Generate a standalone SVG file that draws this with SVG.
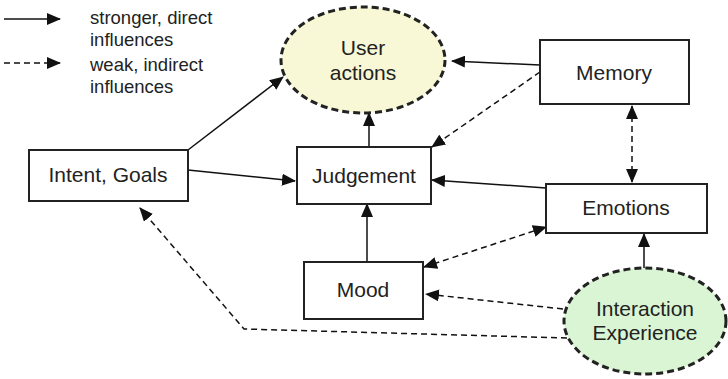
<svg xmlns="http://www.w3.org/2000/svg" width="728" height="379" viewBox="0 0 728 379">
<defs>
<marker id="ah" markerUnits="userSpaceOnUse" markerWidth="14" markerHeight="12" refX="13" refY="6" orient="auto-start-reverse" viewBox="0 0 14 12">
<path d="M0,0 L14,6 L0,12 z" fill="#111"/>
</marker>
<style>
.box{fill:#fff;stroke:#222;stroke-width:2}
.ell{stroke:#222;stroke-width:3;stroke-dasharray:7 4}
.t{font-family:"Liberation Sans",Arial,sans-serif;font-size:21px;fill:#222;text-anchor:middle}
.lg{font-family:"Liberation Sans",Arial,sans-serif;font-size:18.5px;fill:#222}
.s{fill:none;stroke:#111;stroke-width:1.5;marker-end:url(#ah)}
.d{fill:none;stroke:#111;stroke-width:1.5;stroke-dasharray:6 4;marker-end:url(#ah)}
.dd{fill:none;stroke:#111;stroke-width:1.5;stroke-dasharray:6 4;marker-end:url(#ah);marker-start:url(#ah)}
</style>
</defs>
<g id="legend">
<line class="s" x1="4" y1="19" x2="60" y2="19"/>
<line class="d" x1="4" y1="63" x2="60" y2="63"/>
<text class="lg" x="90" y="24">stronger, direct</text>
<text class="lg" x="90" y="46">influences</text>
<text class="lg" x="90" y="71">weak, indirect</text>
<text class="lg" x="90" y="93">influences</text>
</g>
<g id="connectors">
<line class="s" x1="188" y1="150" x2="283" y2="77"/>
<line class="s" x1="188" y1="170" x2="295" y2="181"/>
<line class="s" x1="369" y1="147" x2="369" y2="113"/>
<line class="s" x1="540" y1="65" x2="452" y2="61"/>
<line class="d" x1="540" y1="72" x2="432" y2="147"/>
<line class="dd" x1="632" y1="106" x2="632" y2="182"/>
<line class="s" x1="546" y1="188" x2="432" y2="180"/>
<line class="s" x1="367" y1="262" x2="367" y2="204"/>
<line class="dd" x1="424" y1="267" x2="546" y2="227"/>
<line class="d" x1="563" y1="309" x2="426" y2="294"/>
<line class="s" x1="644" y1="268" x2="644" y2="234"/>
<polyline class="d" points="567,338 244,329 140,208"/>
</g>
<g id="user-actions">
<ellipse class="ell" cx="363" cy="60" rx="82" ry="53" fill="#f8f8d6"/>
<text class="t" x="363" y="55">User</text>
<text class="t" x="363" y="80">actions</text>
</g>
<g id="memory">
<rect class="box" x="540" y="40" width="149" height="64"/>
<text class="t" x="614" y="80">Memory</text>
</g>
<g id="intent-goals">
<rect class="box" x="29" y="150" width="159" height="51"/>
<text class="t" x="108" y="182">Intent, Goals</text>
</g>
<g id="judgement">
<rect class="box" x="297" y="147" width="134" height="57"/>
<text class="t" x="364" y="183">Judgement</text>
</g>
<g id="emotions">
<rect class="box" x="546" y="184" width="161" height="49"/>
<text class="t" x="626" y="215">Emotions</text>
</g>
<g id="mood">
<rect class="box" x="304" y="262" width="119" height="57"/>
<text class="t" x="363" y="297">Mood</text>
</g>
<g id="interaction-experience">
<ellipse class="ell" cx="645" cy="321" rx="81" ry="53" fill="#d9f5d4"/>
<text class="t" x="645" y="316">Interaction</text>
<text class="t" x="645" y="340">Experience</text>
</g>
</svg>
